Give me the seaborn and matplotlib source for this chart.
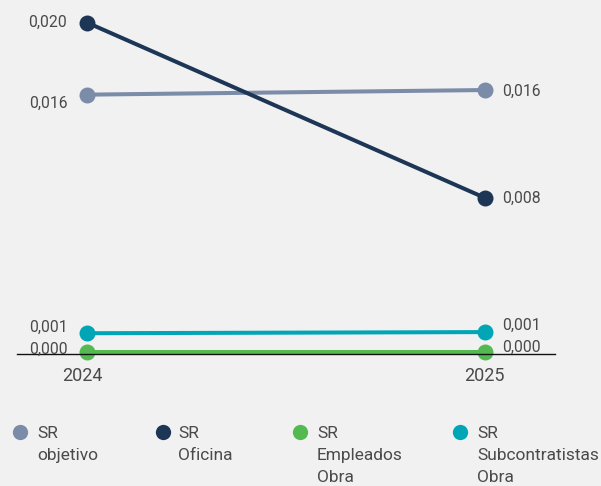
import matplotlib
matplotlib.use("Agg")
import matplotlib.pyplot as plt
import matplotlib.transforms as mtrans
import seaborn as sns
import pandas as pd
from matplotlib.lines import Line2D

# ---- data ----
years = [2024, 2025]
series = ["SR objetivo", "SR Oficina", "SR Empleados Obra", "SR Subcontratistas Obra"]
legend_labels = ["SR\nobjetivo", "SR\nOficina", "SR\nEmpleados\nObra", "SR\nSubcontratistas\nObra"]
sr_objetivo = [0.01563, 0.01591]
sr_oficina = [0.0200, 0.00937]
sr_empleados = [0.0, 0.0]
sr_subcontratistas = [0.00114, 0.00121]
labels_2024 = ["0,016", "0,020", "0,000", "0,001"]
labels_2025 = ["0,016", "0,008", "0,000", "0,001"]
colors = ["#7b8ca8", "#1d3656", "#55b952", "#00a6b6"]

values = [sr_objetivo, sr_oficina, sr_empleados, sr_subcontratistas]
df = pd.DataFrame(
    [(s, y, v) for s, vals in zip(series, values) for y, v in zip(years, vals)],
    columns=["serie", "year", "value"],
)

sns.set_theme(style="white")
plt.rcParams["font.family"] = ["Roboto", "DejaVu Sans"]
bg = "#f1f1f1"
txt = "#4a4a4a"

W, H = 601, 486
fig = plt.figure(figsize=(W / 100, H / 100), dpi=100, facecolor=bg)
# axes placement in pixels
ax_l, ax_r, ax_t, ax_b = 16.7, 555, 10, 354
ax = fig.add_axes([ax_l / W, 1 - ax_b / H, (ax_r - ax_l) / W, (ax_b - ax_t) / H])
ax.set_facecolor(bg)

sns.lineplot(data=df, x="year", y="value", hue="serie", hue_order=series,
             palette=colors, marker="o", markersize=11.5, markeredgewidth=0,
             linewidth=2.9, legend=False, ax=ax)
for ln in ax.lines:
    ln.set_clip_on(False)
    ln.set_solid_capstyle("butt")

ax.set_xlim(2024 - 0.1777, 2025 + 0.1772)
ax.set_ylim(-0.000121, 0.020771)
ax.set_xticks(years)
ax.set_xticklabels([str(y) for y in years], fontsize=13, color=txt)
ax.set_yticks([])
ax.set_xlabel("")
ax.set_ylabel("")
ax.tick_params(axis="x", length=0, pad=9)
# first year label sits slightly left of its point
lab0 = ax.get_xticklabels()[0]
lab0.set_transform(lab0.get_transform() + mtrans.ScaledTranslation(-5 / 100, 0, fig.dpi_scale_trans))
for sp in ["top", "right", "left"]:
    ax.spines[sp].set_visible(False)
ax.spines["bottom"].set_color("#111111")
ax.spines["bottom"].set_linewidth(1.0)

# data labels (offsets in pixels: dx, dy of text baseline, upward positive)
left_dy = [-13.6, -4.0, -1.7, 1.6]
right_dy = [-6.0, -5.6, 0.0, 2.7]
for i, vals in enumerate(values):
    ax.annotate(labels_2024[i], (years[0], vals[0]), xytext=(-20, left_dy[i]),
                textcoords="offset pixels", ha="right", va="baseline",
                fontsize=11.3, color=txt, annotation_clip=False)
    ax.annotate(labels_2025[i], (years[1], vals[1]), xytext=(18, right_dy[i]),
                textcoords="offset pixels", ha="left", va="baseline",
                fontsize=11.3, color=txt, annotation_clip=False)

# legend (manual, top aligned)
leg_marker_x = [20, 163, 300, 460]
leg_text_x = [37, 178, 317, 477]
leg_y = 432
for i, lab in enumerate(legend_labels):
    fig.add_artist(Line2D([leg_marker_x[i] / W], [1 - leg_y / H], marker="o",
                          markersize=11, markeredgewidth=0, color=colors[i],
                          linestyle="none", transform=fig.transFigure))
    fig.text(leg_text_x[i] / W, 1 - (leg_y - 6) / H, lab, ha="left", va="top",
             fontsize=12.5, color=txt, linespacing=1.6)

fig.savefig("out.png", dpi=100, facecolor=bg)
